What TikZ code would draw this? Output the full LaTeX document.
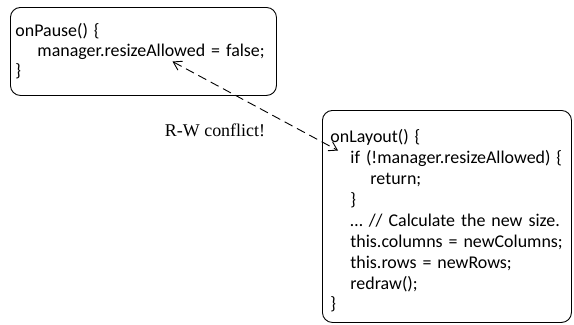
\documentclass[tikz,border=0pt]{standalone}
\usepackage{fontspec}
\setmainfont{Carlito}
\newfontfamily\notefont{Liberation Serif}
\usetikzlibrary{arrows.meta}

\begin{document}
\begin{tikzpicture}[x=1bp, y=-1bp,
		codebox/.style={draw, rounded corners=10bp, line width=0.9bp, inner xsep=6bp, inner ysep=0pt, align=left, anchor=north west},
		>={Straight Barb[length=8bp, width=10bp]}]
	\useasboundingbox (0,0) rectangle (574,324);

	\node (pause) [codebox, text width=256bp, minimum height=88bp, inner xsep=5bp, font=\fontsize{18}{20}\selectfont] at (10,7)
		{onPause() \{\\
		\hspace*{22bp}manager.resizeAllowed = false;\\
		\}};

	\node (layout) [codebox, text width=239bp, minimum height=212bp, inner xsep=5bp, font=\fontsize{18}{21}\selectfont] at (322,110)
		{\rule{0pt}{22bp}\hspace*{3bp}onLayout() \{\\
		\hspace*{23bp}if (!manager.resizeAllowed) \{\\
		\hspace*{43bp}return;\\
		\hspace*{23bp}\}\\
		\hspace*{23bp}\dots\ // Calculate the new size.\\
		\hspace*{23bp}this.columns = newColumns;\\
		\hspace*{23bp}this.rows = newRows;\\
		\hspace*{23bp}redraw();\\
		\hspace*{3bp}\}};

	% ends of the conflict arrow
	\coordinate (write) at (172.5,61.5);
	\coordinate (read) at (338,150.5);

	\draw[<->, line width=0.9bp, dash pattern=on 9bp off 5bp] (write) -- (read);

	\node (conflict) [font=\notefont\fontsize{18}{20}\selectfont] at (215,130) {R-W conflict!};
\end{tikzpicture}
\end{document}
